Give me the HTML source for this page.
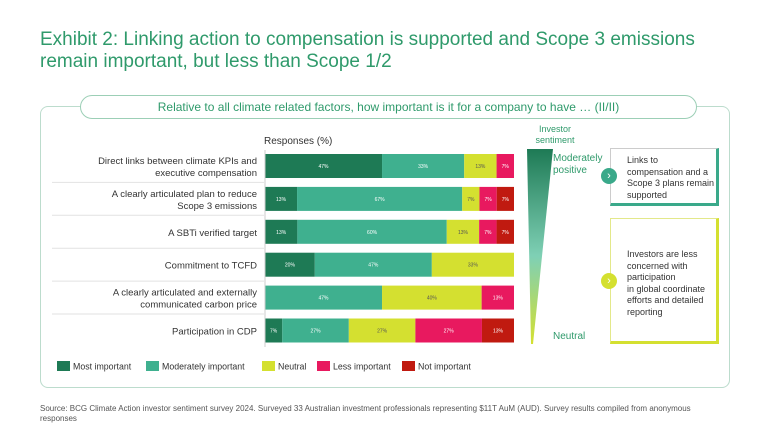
<!DOCTYPE html>
<html><head><meta charset="utf-8"><style>
body{margin:0;width:768px;height:446px;background:#fff;font-family:"Liberation Sans",sans-serif;position:relative;overflow:hidden}
.a{position:absolute}
</style></head><body>
<div class="a" style="left:40px;top:29px;font-size:19px;color:#2f9a6b;line-height:22px;width:700px">Exhibit 2: Linking action to compensation is supported and Scope 3 emissions remain important, but less than Scope 1/2</div>
<div class="a" style="left:40px;top:106px;width:688px;height:280px;border:1px solid #bcdccd;border-radius:8px"></div>
<div class="a" style="left:80px;top:95px;width:615px;height:22px;border:1px solid #9ccfb6;border-radius:12px;background:#fff;text-align:center;font-size:12px;line-height:22px;color:#2f9a6b">Relative to all climate related factors, how important is it for a company to have … (II/II)</div>
<div class="a" style="left:264px;top:136px;font-size:10px;color:#333">Responses (%)</div>
<svg class="a" style="left:0;top:0" width="768" height="446" id="chart"></svg>
<div class="a" style="left:530px;top:124px;width:50px;text-align:center;font-size:9px;color:#2f9a6b;line-height:11px">Investor sentiment</div>
<svg class="a" style="left:525px;top:149px" width="30" height="195"><defs><linearGradient id="g" x1="0" y1="0" x2="0" y2="1"><stop offset="0" stop-color="#1e7a55"/><stop offset=".55" stop-color="#7fd0b5"/><stop offset="1" stop-color="#d4e030"/></linearGradient></defs><polygon points="2,0 28,0 8,195 6,195" fill="url(#g)"/></svg>
<div class="a" style="left:553px;top:153px;font-size:10px;color:#2f9a6b;line-height:12px">Moderately<br>positive</div>
<div class="a" style="left:553px;top:331px;font-size:10px;color:#2f9a6b">Neutral</div>
<div class="a" style="left:610px;top:148px;width:109px;height:58px;border:1px solid #ccc;border-right:3px solid #3aa98a;border-bottom:3px solid #3aa98a;font-size:9px;color:#333;line-height:11.5px;padding:6px 0 0 16px;box-sizing:border-box">Links to compensation and a Scope 3 plans remain supported</div>
<div class="a" style="left:601px;top:168px;width:16px;height:16px;border-radius:50%;background:#3aa98a;color:#fff;font-size:11px;text-align:center;line-height:16px">›</div>
<div class="a" style="left:610px;top:218px;width:109px;height:126px;border:1px solid #e3e88a;border-right:3px solid #d4e030;border-bottom:3px solid #d4e030;font-size:9px;color:#333;line-height:11.5px;padding:30px 0 0 16px;box-sizing:border-box">Investors are less concerned with participation<br>in global coordinate efforts and detailed reporting</div>
<div class="a" style="left:601px;top:273px;width:16px;height:16px;border-radius:50%;background:#d4e030;color:#fff;font-size:11px;text-align:center;line-height:16px">›</div>
<div class="a" style="left:40px;top:404px;width:665px;font-size:8px;color:#555;line-height:9.5px">Source: BCG Climate Action investor sentiment survey 2024. Surveyed 33 Australian investment professionals representing $11T AuM (AUD). Survey results compiled from anonymous responses</div>
<script>
const categories=[["Direct links between climate KPIs and","executive compensation"],["A clearly articulated plan to reduce","Scope 3 emissions"],["A SBTi verified target"],["Commitment to TCFD"],["A clearly articulated and externally","communicated carbon price"],["Participation in CDP"]];
const seriesNames=["Most important","Moderately important","Neutral","Less important","Not important"];
const colors=["#1e7a55","#3fb08f","#d4e030","#e8195f","#c01a10"];
const mostImportant=[47,13,13,20,0,7];
const moderatelyImportant=[33,67,60,47,47,27];
const neutral=[13,7,13,33,40,27];
const lessImportant=[7,7,7,0,13,27];
const notImportant=[0,7,7,0,0,13];
const series=[mostImportant,moderatelyImportant,neutral,lessImportant,notImportant];
const NS="http://www.w3.org/2000/svg",svg=document.getElementById("chart");
const x0=265,x1=514,y0=154,step=32.9,bh=24;
function mk(t,a){const e=document.createElementNS(NS,t);for(const k in a)e.setAttribute(k,a[k]);svg.appendChild(e);return e;}
categories.forEach((c,i)=>{
  const y=y0+i*step;
  const tot=series.reduce((s,a)=>s+a[i],0);
  const xs=v=>v/tot*(x1-x0);
  if(i>0){const l=mk("line",{x1:52,x2:264,y1:y-4.5,y2:y-4.5,stroke:"#e2e2e2"});
  
  }
  c.forEach((s,k)=>{const t=mk("text",{x:257,y:y+bh/2+4-(c.length-1)*6+k*12,"text-anchor":"end","font-size":"9.5",fill:"#333"});t.textContent=s;
  
  });
  let acc=0;
  series.forEach((arr,j)=>{const v=arr[i];if(!v)return;
    const r=mk("rect",{x:x0+xs(acc),y:y,width:xs(v),height:bh,fill:colors[j]});
    
    
    const t=mk("text",{x:x0+xs(acc+v/2),y:y+bh/2+2,"text-anchor":"middle","font-size":"5",fill:j==2?"#555":"#fff"});t.textContent=v+"%";
    
    
    acc+=v;});
});
const ax=mk("line",{x1:x0,x2:x0,y1:150,y2:347,stroke:"#ccc"});


const lx=[57,146,262,317,402];
seriesNames.forEach((n,j)=>{
  const r=mk("rect",{x:lx[j],y:361,width:13,height:10,fill:colors[j]});
  
  
  const t=mk("text",{x:lx[j]+16,y:369.5,"font-size":"8.8",fill:"#333"});t.textContent=n;
  
  
});
</script>
</body></html>
